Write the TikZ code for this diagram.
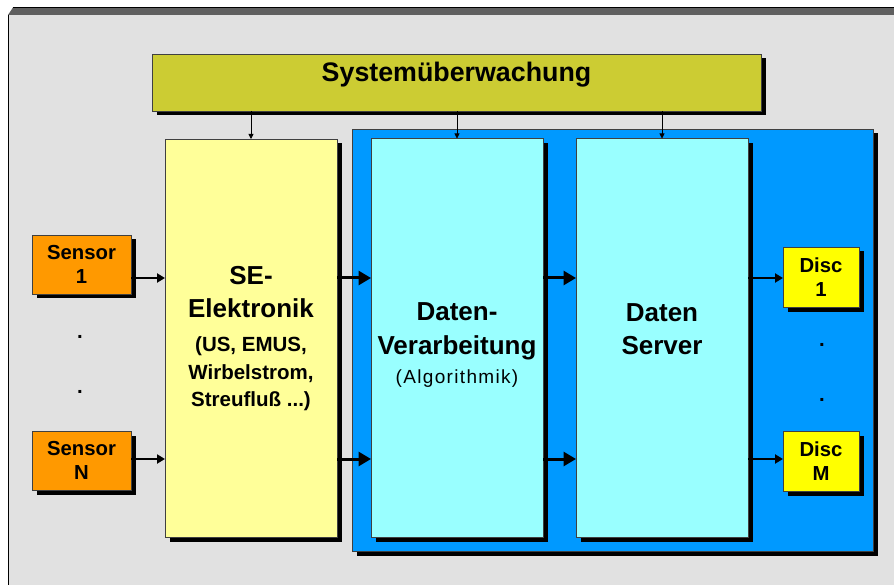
\documentclass[tikz,border=0pt]{standalone}
\usepackage{fontspec}
\setmainfont{Liberation Sans}
\usetikzlibrary{arrows.meta,positioning,shadows}

\definecolor{panelgray}{HTML}{E1E1E1}
\definecolor{bargray}{HTML}{5F5F5F}
\definecolor{monitorolive}{HTML}{CCCC33}
\definecolor{frontyellow}{HTML}{FFFF99}
\definecolor{hostblue}{HTML}{0099FF}
\definecolor{stagecyan}{HTML}{99FFFF}
\definecolor{sensororange}{HTML}{FF9900}
\definecolor{discyellow}{HTML}{FFFF00}

% font sizes (1pt = 1 pixel of the drawing)
\newcommand{\headfont}{\fontsize{26}{33.5}\selectfont\bfseries}
\newcommand{\notefont}{\fontsize{20.5}{27.5}\selectfont\bfseries}
\newcommand{\unitfont}{\fontsize{20.3}{24.7}\selectfont\bfseries}
\newcommand{\remarkfont}{\fontsize{19}{23}\selectfont\addfontfeatures{LetterSpace=7}}

\tikzset{%
  % Specifications for style of arrows:
   signal/.style={
           -{Triangle[length=8pt,width=9pt]},
           line width=2pt},
   databus/.style={
           -{Triangle[length=12.5pt,width=14pt]},
           line width=3pt},
   control/.style={
           -{Triangle[length=5pt,width=5pt]},
           line width=0.8pt},
  % Specifications for style of nodes:
   base/.style = {rectangle, draw=black!75, line width=0.8pt,
                  inner sep=0pt, outer sep=0pt,
                  general shadow={fill=black, shadow xshift=4.5pt,
                                  shadow yshift=-4.5pt}},
   monitor/.style = {base, fill=monitorolive, minimum width=609pt,
                  text height=28pt, text depth=29pt, font=\fontsize{26.8}{30}\selectfont\bfseries},
   column/.style = {base, minimum width=172pt, minimum height=399pt},
   frontend/.style = {column, fill=frontyellow, minimum height=398pt},
   stage/.style = {column, fill=stagecyan},
   host/.style = {base, fill=hostblue, minimum width=521pt, minimum height=422pt},
   unit/.style = {base, font=\unitfont, align=center,
                  minimum width=99pt, minimum height=59pt},
   sensor/.style = {unit, fill=sensororange},
   disc/.style = {unit, fill=discyellow, minimum width=76pt, minimum height=60pt},
   heading/.style = {inner sep=0pt, align=center, font=\headfont},
   note/.style = {inner sep=0pt, align=center, font=\notefont},
   remark/.style = {inner sep=0pt, align=center, font=\remarkfont},
   gap/.style = {inner sep=0pt, font=\unitfont},
}

\begin{document}
\begin{tikzpicture}[x=1pt, y=-1pt]

  % frame of the slide
  \useasboundingbox (0,0) rectangle (894,585);
  \fill[white] (0,0) rectangle (894,585);
  \fill[panelgray] (8,15) rectangle (894,585);
  \fill[bargray] (8,15) -- (13,7.5) -- (894,7.5) -- (894,15) -- cycle;
  \draw[line width=1pt] (13,7.5) -- (894,7.5);
  \draw[line width=1pt] (8.5,15) -- (8.5,585);

  % Specification of nodes (position, etc.)
  \node (sysmon)  [monitor]  at (456.5,82.5)  {Systemüberwachung};
  \node (host)    [host]     at (612.5,340)   {};
  \node (se)      [frontend] at (251,338)     {};
  \node (daten)   [stage, right=34pt of se]    {};
  \node (server)  [stage, right=33pt of daten] {};

  \node (sensor1) [sensor] at (81.5,264.5)       {Sensor\\1};
  \node (sensorN) [sensor, below=137pt of sensor1] {Sensor\\N};
  \node (disc1)   [disc]   at (821,277)          {Disc\\1};
  \node (discM)   [disc, below=124pt of disc1]   {Disc\\M};

  \node (dotL1) [gap] at (80,337)  {.};
  \node (dotL2) [gap] at (80,392)  {.};
  \node (dotR1) [gap] at (822,345) {.};
  \node (dotR2) [gap] at (822,400) {.};

  % texts inside the columns
  \node (seTitle)     [heading] at (se.center |- 0,291.8)     {SE-\\Elektronik};
  \node (seNote)      [note]    at (se.center |- 0,373.9)     {(US, EMUS,\\Wirbelstrom,\\Streufluß ...)};
  \node (datenTitle)  [heading] at (daten.center |- 0,331.3)  {Daten-\\Verarbeitung};
  \node (datenNote)   [remark]  at (daten.center |- 0,378.7)  {(Algorithmik)};
  \node (serverTitle) [heading] at (server.center |- 0,329)   {Daten\\Server};

  % rows of the data path
  \coordinate (rowA) at (0,278);
  \coordinate (rowB) at (0,459);

  % Specification of arrows
  \draw[control] (sysmon.south -| se.north)     -- (se.north);
  \draw[control] (sysmon.south -| daten.north)  -- (daten.north);
  \draw[control] (sysmon.south -| server.north) -- (server.north);

  \draw[signal] (sensor1.east |- rowA) -- (se.west |- rowA);
  \draw[signal] (sensorN.east |- rowB) -- (se.west |- rowB);

  \draw[databus] (se.east |- rowA)    -- (daten.west |- rowA);
  \draw[databus] (se.east |- rowB)    -- (daten.west |- rowB);
  \draw[databus] (daten.east |- rowA) -- (server.west |- rowA);
  \draw[databus] (daten.east |- rowB) -- (server.west |- rowB);

  \draw[signal] (server.east |- rowA) -- (disc1.west |- rowA);
  \draw[signal] (server.east |- rowB) -- (discM.west |- rowB);

\end{tikzpicture}
\end{document}
